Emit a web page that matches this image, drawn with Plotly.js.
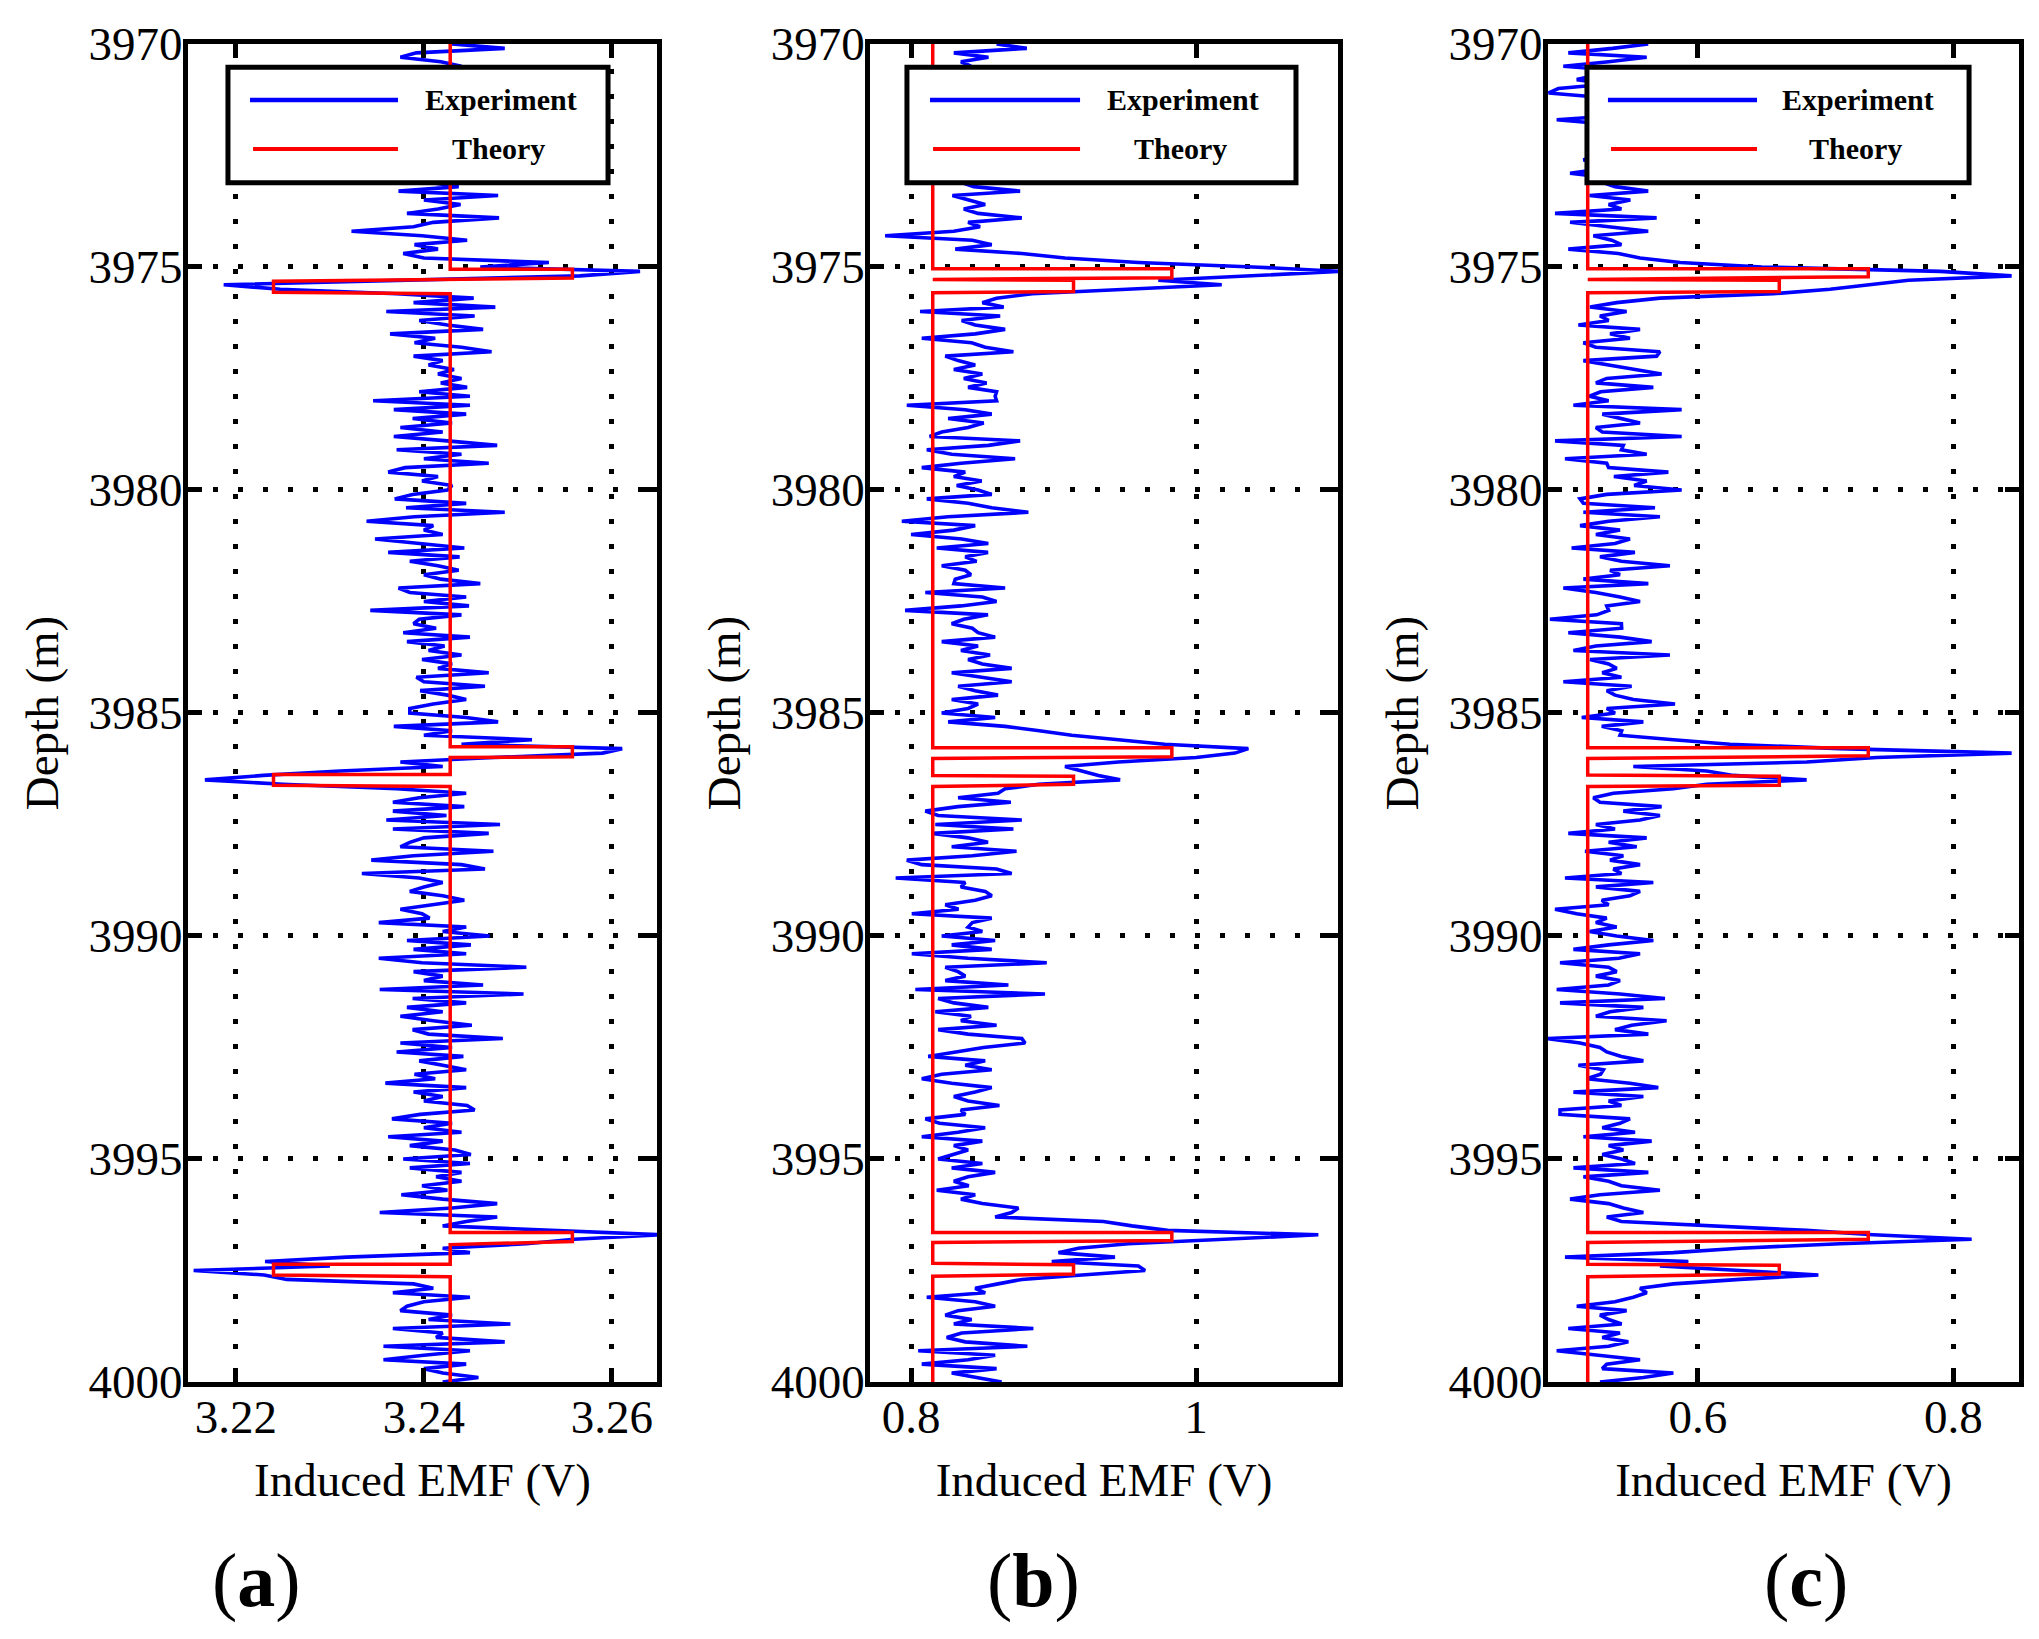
<!DOCTYPE html>
<html><head><meta charset="utf-8">
<script src="https://cdn.plot.ly/plotly-3.0.1.min.js"></script>
<style>html,body{margin:0;padding:0;background:#fff}</style>
</head><body><div id="chart" style="width:2039px;height:1639px"></div>
<script>
// Depth sampling of the measured logs (m), 3970 to 4000 every 0.1 m
const depthStart = 3970, depthStep = 0.1;

// Panel (a) measured induced EMF (V)
const expA = [
3.2430,3.2486,3.2392,3.2375,3.2418,3.2440,3.2405,3.2428,3.2395,3.2420,
3.2410,3.2435,3.2398,3.2425,3.2442,3.2401,3.2419,3.2437,3.2396,3.2422,
3.2415,3.2440,3.2392,3.2428,3.2410,3.2445,3.2400,3.2426,3.2412,3.2436,
3.2420,3.2405,3.2437,3.2373,3.2479,3.2400,3.2439,3.2415,3.2382,3.2480,
3.2410,3.2389,3.2323,3.2398,3.2446,3.2390,3.2415,3.2378,3.2400,3.2533,
3.2460,3.2630,3.2566,3.2389,3.2187,3.2247,3.2371,3.2453,3.2389,3.2476,
3.2360,3.2454,3.2395,3.2425,3.2463,3.2364,3.2412,3.2390,3.2440,3.2472,
3.2389,3.2420,3.2405,3.2432,3.2415,3.2440,3.2418,3.2446,3.2395,3.2449,
3.2346,3.2449,3.2368,3.2445,3.2388,3.2430,3.2375,3.2420,3.2368,3.2425,
3.2478,3.2371,3.2440,3.2400,3.2469,3.2380,3.2362,3.2415,3.2398,3.2430,
3.2425,3.2388,3.2369,3.2445,3.2381,3.2486,3.2390,3.2339,3.2410,3.2400,
3.2420,3.2348,3.2395,3.2443,3.2362,3.2438,3.2385,3.2415,3.2437,3.2400,
3.2418,3.2460,3.2373,3.2385,3.2445,3.2400,3.2448,3.2343,3.2440,3.2395,
3.2389,3.2413,3.2378,3.2449,3.2382,3.2422,3.2405,3.2440,3.2398,3.2430,
3.2415,3.2469,3.2392,3.2400,3.2465,3.2396,3.2425,3.2445,3.2410,3.2385,
3.2385,3.2445,3.2479,3.2368,3.2430,3.2400,3.2515,3.2440,3.2611,3.2590,
3.2474,3.2375,3.2420,3.2311,3.2229,3.2167,3.2250,3.2371,3.2445,3.2395,
3.2367,3.2443,3.2367,3.2424,3.2360,3.2481,3.2367,3.2469,3.2400,3.2385,
3.2375,3.2474,3.2389,3.2344,3.2440,3.2465,3.2334,3.2395,3.2420,3.2400,
3.2385,3.2420,3.2443,3.2410,3.2375,3.2398,3.2406,3.2352,3.2445,3.2420,
3.2470,3.2382,3.2450,3.2389,3.2445,3.2352,3.2398,3.2509,3.2389,3.2420,
3.2400,3.2463,3.2353,3.2506,3.2388,3.2445,3.2382,3.2420,3.2375,3.2410,
3.2451,3.2388,3.2405,3.2484,3.2375,3.2430,3.2371,3.2442,3.2395,3.2420,
3.2445,3.2390,3.2412,3.2359,3.2445,3.2389,3.2420,3.2400,3.2446,3.2454,
3.2396,3.2366,3.2430,3.2400,3.2440,3.2362,3.2420,3.2385,3.2433,3.2450,
3.2378,3.2449,3.2385,3.2440,3.2413,3.2440,3.2398,3.2425,3.2376,3.2420,
3.2478,3.2430,3.2353,3.2478,3.2445,3.2420,3.2540,3.2653,3.2560,3.2509,
3.2420,3.2449,3.2318,3.2231,3.2300,3.2155,3.2230,3.2254,3.2389,3.2410,
3.2367,3.2449,3.2400,3.2382,3.2375,3.2430,3.2405,3.2492,3.2367,3.2420,
3.2413,3.2486,3.2357,3.2449,3.2400,3.2357,3.2445,3.2400,3.2420,3.2458,
3.2420];

// Panel (b) measured induced EMF (V)
const expB = [
0.8600,0.8812,0.8300,0.8543,0.8350,0.8420,0.8310,0.8480,0.8290,0.8400,
0.8380,0.8450,0.8320,0.8410,0.8470,0.8300,0.8390,0.8440,0.8330,0.8420,
0.8360,0.8460,0.8310,0.8400,0.8350,0.8480,0.8320,0.8430,0.8370,0.8410,
0.8400,0.8350,0.8440,0.8765,0.8290,0.8400,0.8520,0.8370,0.8470,0.8777,
0.8400,0.8484,0.8300,0.7818,0.8430,0.8566,0.8310,0.8777,0.9080,0.9595,
1.0400,1.1020,1.0400,0.9735,1.0180,0.9550,0.8850,0.8600,0.8500,0.8650,
0.8063,0.8625,0.8355,0.8450,0.8660,0.8450,0.8075,0.8425,0.8520,0.8718,
0.8240,0.8330,0.8450,0.8300,0.8500,0.8370,0.8530,0.8400,0.8600,0.8590,
0.8600,0.7970,0.8380,0.8566,0.8260,0.8510,0.8400,0.8215,0.8130,0.8765,
0.8542,0.8110,0.8285,0.8730,0.8350,0.8075,0.8380,0.8300,0.8496,0.8320,
0.8470,0.8566,0.8110,0.8400,0.8566,0.8823,0.8260,0.7935,0.8450,0.8300,
0.8000,0.8355,0.8542,0.8180,0.8540,0.8380,0.8460,0.8215,0.8380,0.8420,
0.8310,0.8300,0.8660,0.8100,0.8500,0.8600,0.8350,0.7958,0.8540,0.8370,
0.8285,0.8430,0.8470,0.8590,0.8215,0.8470,0.8350,0.8554,0.8400,0.8500,
0.8706,0.8285,0.8510,0.8706,0.8330,0.8450,0.8610,0.8285,0.8470,0.8400,
0.8215,0.8590,0.8260,0.8660,0.8900,0.9127,0.9455,0.9780,1.0367,1.0273,
1.0000,0.9455,0.9080,0.9200,0.9315,0.9467,0.8895,0.8660,0.8610,0.8330,
0.8700,0.8330,0.8100,0.8190,0.8777,0.8170,0.8718,0.8150,0.8400,0.8540,
0.8285,0.8740,0.8430,0.7970,0.8075,0.8600,0.8706,0.7892,0.8380,0.8350,
0.8520,0.8566,0.8450,0.8240,0.8333,0.8005,0.8566,0.8430,0.8400,0.8500,
0.8215,0.8590,0.8285,0.8566,0.8005,0.8400,0.8952,0.8240,0.8330,0.8380,
0.8240,0.8683,0.8030,0.8940,0.8190,0.8300,0.8542,0.8170,0.8420,0.8350,
0.8600,0.8190,0.8400,0.8777,0.8800,0.8508,0.8300,0.8120,0.8520,0.8380,
0.8566,0.8215,0.8075,0.8285,0.8566,0.8450,0.8300,0.8400,0.8620,0.8350,
0.8380,0.8100,0.8200,0.8520,0.8330,0.8075,0.8500,0.8300,0.8400,0.8285,
0.8190,0.8500,0.8285,0.8590,0.8400,0.8300,0.8405,0.8180,0.8450,0.8350,
0.8500,0.8753,0.8706,0.8590,0.9350,0.9550,0.9800,1.0858,1.0150,0.9525,
0.9174,0.9034,0.9431,0.8987,0.9595,0.9642,0.9200,0.8777,0.8610,0.8450,
0.8520,0.8110,0.8450,0.8590,0.8330,0.8240,0.8425,0.8300,0.8858,0.8355,
0.8250,0.8380,0.8816,0.8050,0.8590,0.8400,0.8075,0.8600,0.8285,0.8450,
0.8636];

// Panel (c) measured induced EMF (V)
const expC = [
0.5610,0.5330,0.4984,0.5598,0.5300,0.4945,0.5400,0.5200,0.5050,0.5300,
0.4906,0.4830,0.5250,0.5180,0.5350,0.5220,0.5400,0.4893,0.5300,0.5200,
0.5350,0.5250,0.5400,0.5200,0.5300,0.5200,0.5102,0.5350,0.5250,0.4998,
0.5300,0.5250,0.5350,0.5610,0.5150,0.5470,0.5300,0.5400,0.4880,0.5676,
0.4998,0.5300,0.5610,0.5180,0.5324,0.5400,0.4984,0.5376,0.5546,0.5860,
0.6500,0.7900,0.8457,0.7650,0.7360,0.7034,0.6590,0.5702,0.5363,0.5154,
0.5441,0.5232,0.5300,0.5063,0.5546,0.5311,0.5467,0.5102,0.5200,0.5702,
0.5676,0.5102,0.5300,0.5493,0.5715,0.5285,0.5200,0.5650,0.5237,0.5150,
0.5300,0.5024,0.5872,0.5250,0.5389,0.5546,0.5200,0.5250,0.5872,0.4880,
0.5415,0.5400,0.5598,0.4958,0.5285,0.5300,0.5768,0.5341,0.5598,0.5500,
0.5872,0.5285,0.5076,0.5102,0.5663,0.5102,0.5702,0.5300,0.5076,0.5389,
0.5200,0.5467,0.5350,0.5010,0.5506,0.5232,0.5400,0.5780,0.5311,0.5389,
0.5102,0.5611,0.4945,0.5200,0.5389,0.5546,0.5285,0.5300,0.5206,0.4840,
0.5400,0.5402,0.4984,0.5389,0.5637,0.5200,0.5024,0.5780,0.5154,0.5300,
0.5363,0.5250,0.5400,0.4945,0.5480,0.5285,0.5350,0.5494,0.5820,0.5285,
0.5350,0.5089,0.5572,0.5246,0.5402,0.5389,0.5807,0.6250,0.7110,0.8457,
0.7400,0.6851,0.5493,0.6068,0.6277,0.6851,0.6068,0.5807,0.5337,0.5180,
0.5232,0.5715,0.5415,0.5702,0.5546,0.5200,0.5350,0.4984,0.5598,0.5300,
0.5520,0.5115,0.5415,0.5311,0.5546,0.5337,0.5400,0.4958,0.5650,0.5200,
0.5546,0.5467,0.5246,0.5300,0.4880,0.5050,0.5285,0.5200,0.5363,0.5150,
0.5363,0.5650,0.5300,0.5024,0.5546,0.5380,0.4919,0.5300,0.5363,0.5200,
0.5389,0.5300,0.4893,0.5389,0.5741,0.4919,0.5572,0.5311,0.5200,0.5754,
0.5480,0.5350,0.5611,0.4815,0.5076,0.5232,0.5285,0.5400,0.5572,0.5063,
0.5259,0.5237,0.5128,0.5467,0.5689,0.5024,0.5572,0.5300,0.5400,0.4919,
0.4919,0.5467,0.5389,0.5250,0.5507,0.5102,0.5637,0.5300,0.5415,0.5250,
0.5400,0.5507,0.5024,0.5611,0.5102,0.5300,0.5400,0.5702,0.5232,0.4998,
0.5300,0.5415,0.5572,0.5285,0.5400,0.6146,0.6851,0.7373,0.8144,0.7112,
0.6329,0.5807,0.4958,0.5924,0.5702,0.6329,0.6943,0.6329,0.5807,0.5546,
0.5598,0.5493,0.5350,0.5050,0.5441,0.5232,0.5300,0.5402,0.4984,0.5389,
0.5250,0.5454,0.5300,0.4893,0.5232,0.5546,0.5285,0.5250,0.5807,0.5572,
0.5232];

// Theoretical responses (step profiles): depth (m) and EMF (V)
const theoryDepthA = [3970,3975.05,3975.05,3975.25,3975.32,3975.57,3975.6,3985.76,3985.76,3985.98,3986.0,3986.38,3986.38,3986.62,3986.65,3996.65,3996.65,3996.85,3996.92,3997.36,3997.36,3997.6,3997.64,4000];
const theoryA = [3.2428,3.2428,3.2558,3.2558,3.2240,3.2240,3.2428,3.2428,3.2558,3.2558,3.2428,3.2428,3.2240,3.2240,3.2428,3.2428,3.2558,3.2558,3.2428,3.2428,3.2240,3.2240,3.2428,3.2428];
const theoryDepthB = [3970,3975.04,3975.04,3975.24,3975.28,3975.3,3975.55,3975.58,3985.78,3985.78,3985.98,3986.02,3986.4,3986.42,3986.6,3986.65,3996.65,3996.65,3996.83,3996.87,3997.34,3997.37,3997.58,3997.63,4000];
const theoryB = [0.8152,0.8152,0.983,0.983,0.8152,0.914,0.914,0.8152,0.8152,0.983,0.983,0.8152,0.8152,0.914,0.914,0.8152,0.8152,0.983,0.983,0.8152,0.8152,0.914,0.914,0.8152,0.8152];
const theoryDepthC = [3970,3975.04,3975.04,3975.22,3975.28,3975.3,3975.55,3975.58,3985.78,3985.78,3985.96,3986.02,3986.39,3986.42,3986.62,3986.65,3996.65,3996.65,3996.8,3996.87,3997.36,3997.38,3997.58,3997.64,4000];
const theoryC = [0.5136,0.5136,0.7334,0.7334,0.5136,0.6637,0.6637,0.5136,0.5136,0.7334,0.7334,0.5136,0.5136,0.6637,0.6637,0.5136,0.5136,0.7334,0.7334,0.5136,0.5136,0.6637,0.6637,0.5136,0.5136];

const panelLabels = ['a','b','c'];
const legendLabels = ['Experiment','Theory'];
const xTitle = 'Induced EMF (V)';
const yTitle = 'Depth (m)';

const depthGrid = expA.map((_, i) => Math.round((depthStart + i * depthStep) * 10) / 10);

const SERIF = 'Liberation Serif, Times New Roman, serif';
const BLUE = '#0000ff', RED = '#ff0000';

function expTrace(vals, ax) {
  return {x: vals, y: depthGrid, xaxis: 'x' + ax, yaxis: 'y' + ax, type: 'scatter', mode: 'lines',
          line: {color: BLUE, width: 3.6}, showlegend: false, hoverinfo: 'skip'};
}
function thTrace(vals, depths, ax) {
  return {x: vals, y: depths, xaxis: 'x' + ax, yaxis: 'y' + ax, type: 'scatter', mode: 'lines',
          line: {color: RED, width: 3.5}, showlegend: false, hoverinfo: 'skip'};
}

const data = [
  expTrace(expA, ''), thTrace(theoryA, theoryDepthA, ''),
  expTrace(expB, '2'), thTrace(theoryB, theoryDepthB, '2'),
  expTrace(expC, '3'), thTrace(theoryC, theoryDepthC, '3')
];

const axBase = {
  showline: true, linecolor: 'black', linewidth: 5, mirror: 'ticks',
  ticks: 'inside', ticklen: 14, tickwidth: 5, tickcolor: 'black',
  showgrid: true, gridcolor: 'black', gridwidth: 5, griddash: '5px,20px',
  zeroline: false, fixedrange: true,
  tickfont: {family: SERIF, size: 47, color: 'black'}
};
function xAx(domain, range, tick0, dtick, anchor) {
  return Object.assign({}, axBase, {domain: domain, range: range, tick0: tick0, dtick: dtick, anchor: anchor,
    ticklabelstandoff: -10,
    title: {text: xTitle, font: {family: SERIF, size: 47, color: 'black'}, standoff: 22}});
}
function yAx(range, anchor) {
  return Object.assign({}, axBase, {domain: [0.1568, 0.9732], range: range, tick0: 3970, dtick: 5, anchor: anchor,
    ticklabelstandoff: -9,
    title: {text: yTitle, font: {family: SERIF, size: 47, color: 'black'}, standoff: 17}});
}

const legendBoxes = [
  {x0: 0.1118, x1: 0.2982, lx0: 0.1226, lx1: 0.1952, tx: 0.2457},
  {x0: 0.4448, x1: 0.6356, lx0: 0.4561, lx1: 0.5297, tx: 0.5800},
  {x0: 0.7783, x1: 0.9657, lx0: 0.7886, lx1: 0.8617, tx: 0.9110}
];
const shapes = [], annotations = [];
legendBoxes.forEach(b => {
  shapes.push({type: 'rect', xref: 'paper', yref: 'paper', x0: b.x0, x1: b.x1, y0: 0.8885, y1: 0.9590,
               fillcolor: 'white', line: {color: 'black', width: 5}, layer: 'above'});
  shapes.push({type: 'line', xref: 'paper', yref: 'paper', x0: b.lx0, x1: b.lx1, y0: 0.9390, y1: 0.9390,
               line: {color: BLUE, width: 4.5}, layer: 'above'});
  shapes.push({type: 'line', xref: 'paper', yref: 'paper', x0: b.lx0 + 0.0015, x1: b.lx1, y0: 0.9091, y1: 0.9091,
               line: {color: RED, width: 3.8}, layer: 'above'});
  annotations.push({xref: 'paper', yref: 'paper', x: b.tx, y: 0.9390, text: '<b>' + legendLabels[0] + '</b>',
                    showarrow: false, xanchor: 'center', yanchor: 'middle', font: {family: SERIF, size: 30, color: 'black'}});
  annotations.push({xref: 'paper', yref: 'paper', x: b.tx - 0.0012, y: 0.9091, text: '<b>' + legendLabels[1] + '</b>',
                    showarrow: false, xanchor: 'center', yanchor: 'middle', font: {family: SERIF, size: 30, color: 'black'}});
});
const labelX = [0.1256, 0.5071, 0.8857];
panelLabels.forEach((p, i) => {
  annotations.push({xref: 'paper', yref: 'paper', x: labelX[i], y: 0.0354, text: '(<b>' + p + '</b>)',
                    showarrow: false, xanchor: 'center', yanchor: 'middle', font: {family: SERIF, size: 76, color: 'black'}});
});

const layout = {
  width: 2039, height: 1639,
  margin: {l: 0, r: 0, t: 0, b: 0},
  paper_bgcolor: 'white', plot_bgcolor: 'white',
  showlegend: false,
  xaxis: xAx([0.0922, 0.3222], [3.2149, 3.2648], 3.22, 0.02, 'y'),
  yaxis: yAx([4000, 3970], 'x'),
  xaxis2: xAx([0.4267, 0.6562], [0.7712, 1.0996], 0.8, 0.2, 'y2'),
  yaxis2: yAx([4000, 3970], 'x2'),
  xaxis3: xAx([0.7592, 0.9902], [0.4825, 0.8515], 0.6, 0.2, 'y3'),
  yaxis3: yAx([4000, 3970], 'x3'),
  shapes: shapes,
  annotations: annotations
};

Plotly.newPlot('chart', data, layout, {displayModeBar: false, staticPlot: true});
</script>
</body></html>
